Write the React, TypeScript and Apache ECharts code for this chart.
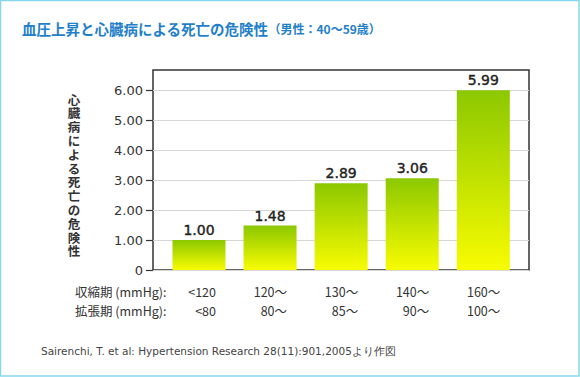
import React, { useEffect, useRef } from "react";
import * as echarts from "echarts";

const systolic = ["<120", "120〜", "130〜", "140〜", "160〜"];
const diastolic = ["<80", "80〜", "85〜", "90〜", "100〜"];
const risk = [1.0, 1.48, 2.89, 3.06, 5.99];
const yTicks = [0, 1, 2, 3, 4, 5, 6];
const titleMain = "血圧上昇と心臓病による死亡の危険性";
const titleSub = "（男性：40〜59歳）";
const yName = "心臓病による死亡の危険性";
const rowNames = ["収縮期 (mmHg):", "拡張期 (mmHg):"];
const source = "Sairenchi, T. et al: Hypertension Research 28(11):901,2005より作図";

export default function App() {
  const ref = useRef<HTMLDivElement>(null);
  useEffect(() => {
    if (!ref.current) return;
    const chart = echarts.init(ref.current, null, { renderer: "svg" });
    const gradient = new echarts.graphic.LinearGradient(0, 0, 0, 1, [
      { offset: 0, color: "#8cc800" },
      { offset: 1, color: "#f8fc00" },
    ]);
    chart.setOption({
      animation: false,
      backgroundColor: "#ffffff",
      grid: {
        left: 153,
        right: 51,
        top: 70,
        bottom: 107,
        show: true,
        borderColor: "#333333",
        borderWidth: 1.5,
        backgroundColor: "transparent",
      },
      xAxis: {
        type: "value",
        min: -0.647,
        max: 4.643,
        axisLine: { show: false, onZero: false },
        axisTick: { show: false },
        splitLine: { show: false },
        axisLabel: {
          customValues: [0, 1, 2, 3, 4],
          margin: 12,
          lineHeight: 19,
          formatter: (v: number) => {
            const i = Math.round(v);
            return `{a|${systolic[i]}}\n{a|${diastolic[i]}}`;
          },
          rich: {
            a: {
              width: 34,
              align: "right",
              fontSize: 12.5,
              lineHeight: 19,
              color: "#333",
              fontFamily: "Noto Sans CJK JP",
            },
          },
        },
      },
      yAxis: {
        type: "value",
        min: 0,
        max: 20 / 3,
        interval: 1,
        axisLine: { show: false, onZero: false },
        axisTick: {
          show: true,
          customValues: yTicks,
          length: 7,
          lineStyle: { color: "#333", width: 1.2 },
        },
        splitLine: { show: true, lineStyle: { color: "#d6d6d6", width: 1 } },
        axisLabel: {
          customValues: yTicks,
          margin: 10,
          fontSize: 13,
          color: "#333",
          fontFamily: "DejaVu Sans",
          formatter: (v: number) => (v === 0 ? "0" : v.toFixed(2)),
        },
      },
      series: [
        {
          type: "bar",
          barWidth: 53,
          data: risk.map((v, i) => [i, v]),
          itemStyle: { color: gradient },
          label: {
            show: true,
            position: "top",
            distance: 3,
            fontSize: 14,
            fontWeight: "normal",
            color: "#222",
            textBorderColor: "#222",
            textBorderWidth: 0.4,
            fontFamily: "DejaVu Sans",
            formatter: (p: any) => p.value[1].toFixed(2),
          },
        },
      ],
      graphic: [
        {
          type: "rect",
          shape: { x: 0.5, y: 0.5, width: 578.5, height: 375.5 },
          style: { fill: "none", stroke: "#86d8ee", lineWidth: 1.5 },
          silent: true,
          z: 100,
        },
        {
          type: "text",
          left: 22,
          top: 21,
          style: {
            text: `{m|${titleMain}}{s|${titleSub}}`,
            rich: {
              m: {
                fontSize: 14.5,
                fontWeight: "bold",
                fill: "#1f7fc9",
                fontFamily: "Noto Sans CJK JP",
              },
              s: {
                fontSize: 12,
                fontWeight: "bold",
                fill: "#1f7fc9",
                fontFamily: "Noto Sans CJK JP",
              },
            },
          },
        },
        ...yName.split("").map((c, i) => ({
          type: "text",
          x: 74,
          y: 99 + i * 13.8,
          style: {
            text: c,
            fontSize: 12.5,
            fontWeight: "bold",
            fill: "#333",
            align: "center",
            verticalAlign: "middle",
            fontFamily: "Noto Sans CJK JP",
          },
        })),
        ...rowNames.map((t, i) => ({
          type: "text",
          x: 75,
          y: 291 + i * 19,
          style: {
            text: t,
            fontSize: 12.5,
            fill: "#333",
            verticalAlign: "middle",
            fontFamily: "Noto Sans CJK JP",
          },
        })),
        {
          type: "text",
          x: 41,
          y: 351,
          style: {
            text: source,
            fontSize: 10.5,
            fill: "#444",
            verticalAlign: "middle",
            fontFamily: "DejaVu Sans",
          },
        },
      ],
    });
    return () => chart.dispose();
  }, []);
  return (
    <div
      ref={ref}
      style={{ position: "fixed", left: 0, top: 0, width: 580, height: 377 }}
    />
  );
}
